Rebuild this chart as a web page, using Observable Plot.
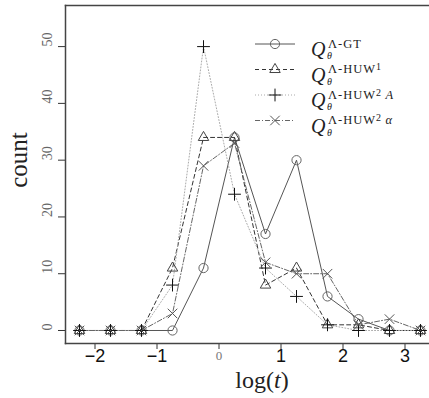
<!DOCTYPE html>
<html>
<head>
<meta charset="utf-8">
<script src="https://cdn.jsdelivr.net/npm/d3@7"></script>
<script src="https://cdn.jsdelivr.net/npm/@observablehq/plot@0.6"></script>
<style>
  html, body { margin: 0; padding: 0; background: #fff; }
  #wrap { position: relative; width: 429px; height: 398px; overflow: hidden; }
  #wrap svg { position: absolute; left: 0; top: 0; }
</style>
</head>
<body>
<div id="wrap"></div>
<script>
// ---- data ----
const logT = [-2.25, -1.75, -1.25, -0.75, -0.25, 0.25, 0.75, 1.25, 1.75, 2.25, 2.75, 3.25];
const seriesGT      = [0, 0, 0, 0, 11, 34, 17, 30, 6, 2, 0, 0];
const seriesHUW1    = [0, 0, 0, 11, 34, 34, 8, 11, 1, 1, 0, 0];
const seriesHUW2A   = [0, 0, 0, 8, 50, 24, 11, 6, 1, 0, 0, 0];
const seriesHUW2alp = [0, 0, 0, 3, 29, 33, 12, 10, 10, 1, 2, 0];
const xTicks = [-2, -1, 0, 1, 2, 3];
const yTicks = [0, 10, 20, 30, 40, 50];

const styles = [
  {key: "GT",   values: seriesGT,      stroke: "#555", dash: null,      symbol: "circle",    r: 4.6, mstroke: "#666"},
  {key: "HUW1", values: seriesHUW1,    stroke: "#333", dash: "4,3",     symbol: "triangle2", r: 5.0, mstroke: "#444"},
  {key: "HUW2A",values: seriesHUW2A,   stroke: "#aaa", dash: "1,2",     symbol: "plus",      r: 4.2, mstroke: "#111"},
  {key: "HUW2a",values: seriesHUW2alp, stroke: "#666", dash: "5,2,1,2", symbol: "times",     r: 4.4, mstroke: "#555"}
];

const marks = [];
for (const s of styles) {
  const rows = logT.map((x, i) => ({x, y: s.values[i]}));
  marks.push(Plot.line(rows, {x: "x", y: "y", stroke: s.stroke, strokeWidth: 1, strokeDasharray: s.dash}));
}
for (const s of styles) {
  const rows = logT.map((x, i) => ({x, y: s.values[i]}));
  marks.push(Plot.dot(rows, {x: "x", y: "y", symbol: () => s.symbol, r: s.r, stroke: s.mstroke, strokeWidth: 1, fill: "none"}));
}

const chart = Plot.plot({
  width: 429,
  height: 398,
  marginLeft: 65,
  marginRight: 0,
  marginTop: 5,
  marginBottom: 55,
  x: {domain: [-2.476, 3.395]},
  y: {domain: [-2.29, 57.24]},
  style: {background: "white"},
  marks: [
    ...marks,
    Plot.axisY({ticks: yTicks, tickSize: 7, tickFormat: () => "", stroke: "#333", label: null}),
    Plot.text(yTicks, {y: d => d, text: d => String(d), frameAnchor: "left", dx: -18, rotate: -90,
      fontFamily: "Liberation Serif", fontSize: 14, fill: "#666"}),
    Plot.axisX({ticks: xTicks, tickSize: 6, tickPadding: 0,
      tickFormat: d => d === 0 ? "" : (d < 0 ? "\u2212" + (-d) : String(d)),
      fontFamily: "Liberation Sans, Arial, sans-serif", fontSize: 18, fill: "#111", stroke: "#333", label: null}),
    Plot.text([0], {x: d => d, text: d => String(d), frameAnchor: "bottom", dy: 16,
      fontFamily: "Liberation Serif", fontSize: 13, fill: "#777"}),
    Plot.frame({anchor: "left", stroke: "#444", strokeWidth: 1.5}),
    Plot.frame({anchor: "top", stroke: "#444", strokeWidth: 1.5}),
    Plot.frame({anchor: "bottom", stroke: "#444", strokeWidth: 1.5})
  ]
});
document.getElementById("wrap").appendChild(chart);

// ---- overlay: axis titles and legend ----
const ov = d3.select("#wrap").append("svg")
  .attr("width", 429).attr("height", 398)
  .style("pointer-events", "none");

ov.append("text").attr("transform", "translate(27,160) rotate(-90)")
  .attr("text-anchor", "middle").attr("font-family", "Liberation Serif").attr("font-size", 25)
  .attr("fill", "#222").text("count");

const xl = ov.append("text").attr("x", 262).attr("y", 388).attr("text-anchor", "middle")
  .attr("font-family", "Liberation Serif").attr("font-size", 24).attr("fill", "#222");
xl.append("tspan").text("log(");
xl.append("tspan").attr("font-style", "italic").text("t");
xl.append("tspan").text(")");

const legendSup = [
  [["\u039B-GT", null]],
  [["\u039B-HUW", null], ["1", "hi"]],
  [["\u039B-HUW", null], ["2", "hi"], ["\u2009A", "it"]],
  [["\u039B-HUW", null], ["2", "hi"], ["\u2009\u03B1", "it"]]
];
const symMap = {circle: d3.symbolCircle, triangle2: d3.symbolTriangle2, plus: d3.symbolPlus, times: d3.symbolTimes};
styles.forEach((s, i) => {
  const ly = 44 + i * 25.5;
  ov.append("line").attr("x1", 255).attr("x2", 295).attr("y1", ly).attr("y2", ly)
    .attr("stroke", s.stroke).attr("stroke-width", 1).attr("stroke-dasharray", s.dash);
  ov.append("path").attr("transform", `translate(275,${ly})`)
    .attr("d", d3.symbol(symMap[s.symbol], s.r * s.r * Math.PI)())
    .attr("fill", "none").attr("stroke", s.mstroke).attr("stroke-width", 1);
  const t = ov.append("text").attr("x", 311).attr("y", ly + 12)
    .attr("font-family", "Liberation Serif").attr("font-size", 12.5).attr("fill", "#222");
  t.append("tspan").attr("font-style", "italic").attr("font-size", 20).text("Q");
  t.append("tspan").attr("x", 327).attr("dy", 3.3).attr("font-style", "italic").attr("font-size", 10).text("\u03B8");
  legendSup[i].forEach(([str, kind], j) => {
    const sp = t.append("tspan").text(str).attr("letter-spacing", 1);
    if (j === 0) sp.attr("x", 328).attr("dy", -11.8);
    if (kind === "hi") sp.attr("font-size", 10).attr("dy", -3);
    if (kind === "it") sp.attr("font-style", "italic").attr("dy", 3);
  });
});
</script>
</body>
</html>
